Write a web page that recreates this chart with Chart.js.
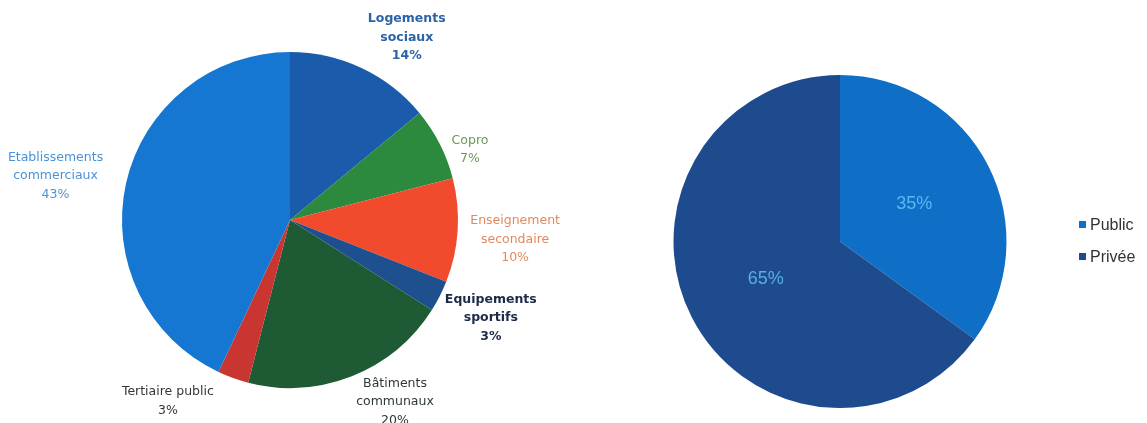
<!DOCTYPE html>
<html>
<head>
<meta charset="utf-8">
<script src="https://cdn.jsdelivr.net/npm/chart.js@4.4.1/dist/chart.umd.min.js"></script>
<style>
  body { margin: 0; background: #fff; }
  #wrap { position: relative; width: 1147px; height: 423px; overflow: hidden; }
  #left { position: absolute; left: 0; top: 0; }
  #right { position: absolute; left: 580px; top: 0; }
  #legend { position: absolute; left: 1079px; top: 214px; font-family: "Liberation Sans", Arial, sans-serif; font-size: 16px; color: #333; }
  #legend div { height: 32px; line-height: 22px; white-space: nowrap; }
  #legend span { display: inline-block; width: 7px; height: 7px; margin-right: 4px; vertical-align: 2px; }
</style>
</head>
<body>
<div id="wrap">
  <canvas id="left" width="580" height="423"></canvas>
  <canvas id="right" width="567" height="423"></canvas>
  <div id="legend"></div>
</div>
<script>
// Left pie: type of building
const buildingLabels = [
  ['Logements', 'sociaux'],
  ['Copro'],
  ['Enseignement', 'secondaire'],
  ['Equipements', 'sportifs'],
  ['Bâtiments', 'communaux'],
  ['Tertiaire public'],
  ['Etablissements', 'commerciaux']
];
const buildingValues = [14, 7, 10, 3, 20, 3, 43];

// Right pie: public / private
const ownerLabels = ['Public', 'Privée'];
const ownerValues = [35, 65];

// styles
const buildingColors = ['#1a5cab', '#2b8a3e', '#f24a2c', '#1e4f8f', '#1e5b35', '#c93632', '#1577d2'];
const buildingTextColors = ['#2c62a6', '#6b9a58', '#e3895c', '#1c2a48', '#2e3838', '#3a3535', '#4a92d8'];
const buildingTextBold = [true, false, false, true, false, false, false];
// label placement: angle shift (deg, clockwise) and distance as a share of the radius
const buildingShift = [7.4, 5.7, 1.4, -1, -8.4, 14.2, -2];
const buildingDist = [1.29, 1.15, 1.345, 1.33, 1.25, 1.30, 1.42];

const ownerColors = ['#0f6fc6', '#1e4a8e'];

const sliceLabels = {
  id: 'sliceLabels',
  afterDatasetsDraw(chart, args, opts) {
    const ctx = chart.ctx;
    const meta = chart.getDatasetMeta(0);
    const values = chart.data.datasets[0].data;
    ctx.save();
    ctx.textAlign = 'center';
    ctx.textBaseline = 'middle';
    meta.data.forEach((arc, i) => {
      const mid = (arc.startAngle + arc.endAngle) / 2 + (opts.shift ? opts.shift[i] : 0) * Math.PI / 180;
      const r = arc.outerRadius * opts.dist[i];
      const x = arc.x + Math.cos(mid) * r;
      const y = arc.y + Math.sin(mid) * r;
      const lines = opts.names ? opts.names[i].concat([values[i] + '%']) : [values[i] + '%'];
      ctx.fillStyle = opts.colors[i];
      ctx.font = (opts.bold && opts.bold[i] ? 'bold ' : '') + opts.font;
      const top = y - (lines.length - 1) * opts.lineHeight / 2;
      lines.forEach((t, k) => ctx.fillText(t, x, top + k * opts.lineHeight));
    });
    ctx.restore();
  }
};

new Chart(document.getElementById('left'), {
  type: 'pie',
  data: {
    labels: buildingLabels.map(l => l.join(' ')),
    datasets: [{ data: buildingValues, backgroundColor: buildingColors, borderWidth: 0 }]
  },
  plugins: [sliceLabels],
  options: {
    responsive: false,
    animation: false,
    layout: { padding: { top: 52, bottom: 35, left: 100, right: 100 } },
    plugins: {
      legend: { display: false },
      tooltip: { enabled: false },
      sliceLabels: {
        names: buildingLabels,
        colors: buildingTextColors,
        bold: buildingTextBold,
        shift: buildingShift,
        dist: buildingDist,
        font: '12.5px "DejaVu Sans", sans-serif',
        lineHeight: 18.5
      }
    }
  }
});

new Chart(document.getElementById('right'), {
  type: 'pie',
  data: {
    labels: ownerLabels,
    datasets: [{ data: ownerValues, backgroundColor: ownerColors, borderWidth: 0 }]
  },
  plugins: [sliceLabels],
  options: {
    responsive: false,
    animation: false,
    layout: { padding: { top: 75, bottom: 15, left: 50, right: 97 } },
    plugins: {
      legend: { display: false },
      tooltip: { enabled: false },
      sliceLabels: {
        colors: ['#5ab8ee', '#5aaee2'],
        dist: [0.5, 0.5],
        font: '18px "Liberation Sans", Arial, sans-serif',
        lineHeight: 20
      }
    }
  }
});

// legend
document.getElementById('legend').innerHTML = ownerLabels
  .map((l, i) => `<div><span style="background:${ownerColors[i]}"></span>${l}</div>`)
  .join('');
</script>
</body>
</html>
